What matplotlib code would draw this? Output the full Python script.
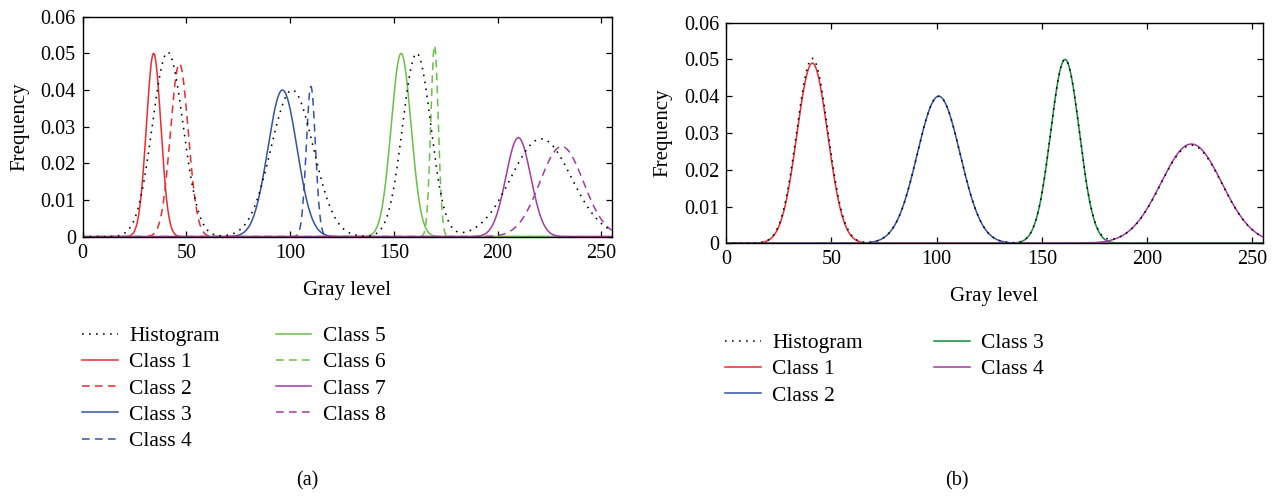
import numpy as np
import matplotlib
matplotlib.use("Agg")
import matplotlib.pyplot as plt

# ---------------- data (Gaussian components) -------------
gray_min, gray_max = 0, 255

# histogram: four modes (mean, std, peak height)
hist_means = [41, 101, 161, 221]
hist_sigmas = [7.4, 10.2, 6.8, 14.5]
hist_peaks = [0.0503, 0.0400, 0.0500, 0.0267]

# panel (a): eight classes
a_labels = ["Class 1", "Class 2", "Class 3", "Class 4",
            "Class 5", "Class 6", "Class 7", "Class 8"]
a_means = [34.2, 46.6, 96.3, 110.0, 153.5, 169.6, 210.0, 230.9]
a_sigmas = [3.5, 4.3, 7.0, 2.2, 4.8, 1.8, 6.0, 10.5]
a_peaks = [0.0500, 0.0472, 0.0400, 0.0410, 0.0500, 0.0522, 0.0270, 0.0246]

# panel (b): four classes
b_labels = ["Class 1", "Class 2", "Class 3", "Class 4"]
b_means = [41, 101, 161, 221]
b_sigmas = [7.3, 10.2, 6.8, 14.5]
b_peaks = [0.0490, 0.0400, 0.0500, 0.0270]

x_ticks = [0, 50, 100, 150, 200, 250]
y_ticks = [0, 0.01, 0.02, 0.03, 0.04, 0.05, 0.06]
y_tick_labels = ["0", "0.01", "0.02", "0.03", "0.04", "0.05", "0.06"]

# ---------------- styles ----------------
RED = "#ee2a2f"
BLUE = "#3253a4"
LGREEN = "#68c046"
DGREEN = "#17893c"
PURPLE = "#a43aa4"

a_colors = [RED, RED, BLUE, BLUE, LGREEN, LGREEN, PURPLE, PURPLE]
a_styles = ["-", (0, (5, 3.5)), "-", (0, (5, 3.5)),
            "-", (0, (5, 3.5)), "-", (0, (5, 3.5))]
b_colors = [RED, BLUE, DGREEN, PURPLE]

plt.rcParams["font.family"] = ["Liberation Serif", "DejaVu Serif"]

x = np.linspace(gray_min, gray_max, 1021)


def gauss(xv, m, s, p):
    return p * np.exp(-0.5 * ((xv - m) / s) ** 2)


hist = np.zeros_like(x)
for m, s, p in zip(hist_means, hist_sigmas, hist_peaks):
    hist = hist + gauss(x, m, s, p)

W, H = 1277, 496
fig = plt.figure(figsize=(W / 100, H / 100), dpi=100)

ax_a = fig.add_axes([82.7 / W, 1 - 236.7 / H, (611.7 - 82.7) / W, (236.7 - 16.7) / H])
ax_b = fig.add_axes([726 / W, 1 - 243.3 / H, (1263 - 726) / W, (243.3 - 22.7) / H])

HIST_STYLE = dict(color="black", lw=1.15, linestyle=(0, (1, 3.4)), zorder=4)


def style_axes(ax):
    ax.set_xlim(gray_min, gray_max)
    ax.set_ylim(0, 0.06)
    ax.set_xticks(x_ticks)
    ax.set_yticks(y_ticks)
    ax.set_yticklabels(y_tick_labels)
    ax.tick_params(direction="in", top=True, right=True, length=4, width=0.9,
                   labelsize=14.5, pad=5)
    for sp in ax.spines.values():
        sp.set_linewidth(1.0)
    ax.set_xlabel("Gray level", fontsize=15, labelpad=13)
    ax.set_ylabel("Frequency", fontsize=15, labelpad=8)


# panel (a)
ha, = ax_a.plot(x, hist, **HIST_STYLE)
handles_a = [ha]
for lab, m, s, p, c, ls in zip(a_labels, a_means, a_sigmas, a_peaks, a_colors, a_styles):
    h, = ax_a.plot(x, gauss(x, m, s, p), color=c, linestyle=ls, lw=1.1)
    handles_a.append(h)
style_axes(ax_a)

# panel (b)
hb, = ax_b.plot(x, hist, **HIST_STYLE)
handles_b = [hb]
for lab, m, s, p, c in zip(b_labels, b_means, b_sigmas, b_peaks, b_colors):
    h, = ax_b.plot(x, gauss(x, m, s, p), color=c, lw=1.1)
    handles_b.append(h)
style_axes(ax_b)

leg_kw = dict(frameon=False, fontsize=15.5, handlelength=1.65, handletextpad=0.55,
              borderpad=0, borderaxespad=0, labelspacing=0.29, loc="upper left")

fig.legend(handles_a, ["Histogram"] + a_labels, ncol=2, columnspacing=2.6,
           bbox_to_anchor=(82 / W, 1 - 326 / H), **leg_kw)
fig.legend(handles_b, ["Histogram"] + b_labels, ncol=2, columnspacing=3.3,
           bbox_to_anchor=(725 / W, 1 - 333 / H), **leg_kw)

fig.text(307 / W, 1 - 481 / H, "(a)", ha="center", va="center", fontsize=14.5)
fig.text(957 / W, 1 - 481 / H, "(b)", ha="center", va="center", fontsize=14.5)

fig.savefig("out.png", dpi=100)
